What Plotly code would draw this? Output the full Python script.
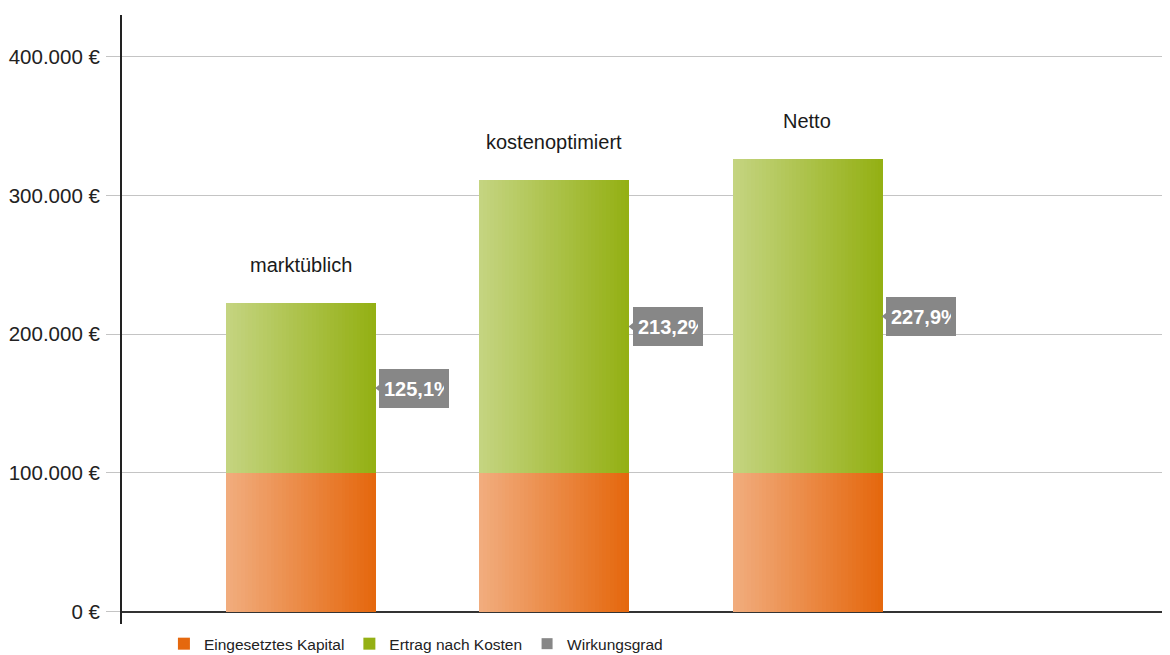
import plotly.graph_objects as go

# ---------------- data ----------------
categories = ["marktüblich", "kostenoptimiert", "Netto"]
capital = [100000, 100000, 100000]              # Eingesetztes Kapital
yield_after_costs = [122700, 210900, 226000]    # Ertrag nach Kosten
efficiency = [125.1, 213.2, 227.9]              # Wirkungsgrad (%)
efficiency_text = ["125,1%", "213,2%", "227,9%"]
tick_vals = [0, 100000, 200000, 300000, 400000]
tick_text = ["0 €", "100.000 €", "200.000 €", "300.000 €", "400.000 €"]

# ---------------- style ----------------
idx = list(range(len(categories)))
BW = 0.59            # bar width in category units
N = 40               # gradient slices
orange_l, orange_r = (241, 172, 125), (229, 104, 14)
green_l, green_r = (196, 212, 128), (148, 176, 20)
GREY = "#878787"
SANS = "Liberation Sans, Arial, sans-serif"


def mix(c1, c2, t):
    return "rgb(%d,%d,%d)" % tuple(round(a + (b - a) * t) for a, b in zip(c1, c2))


totals = [c + y for c, y in zip(capital, yield_after_costs)]

fig = go.Figure()

for name, vals, bases, cl, cr, rank in [
    ("Eingesetztes Kapital", capital, [0] * len(capital), orange_l, orange_r, 1),
    ("Ertrag nach Kosten", yield_after_costs, capital, green_l, green_r, 2),
]:
    for i in range(N):
        t = i / (N - 1)
        fig.add_trace(go.Bar(
            x=idx, y=vals, base=bases,
            width=BW / N * 1.15,
            offset=-BW / 2 + i * BW / N,
            marker=dict(color=mix(cl, cr, t), line=dict(width=0)),
            name=name, legendgroup=name,
            showlegend=(i == N - 1), legendrank=rank,
            hoverinfo="skip",
        ))

# notch of the efficiency callouts
fig.add_trace(go.Scatter(
    x=[i + BW / 2 + 0.019 for i in idx], y=efficiency, yaxis="y2",
    mode="markers", marker=dict(symbol="triangle-left", size=10, color=GREY),
    showlegend=False, hoverinfo="skip",
))
# Wirkungsgrad series (marker hidden under the label box)
fig.add_trace(go.Scatter(
    x=[i + BW / 2 + 0.08 for i in idx], y=efficiency, yaxis="y2",
    mode="markers", marker=dict(symbol="square", size=11, color=GREY),
    name="Wirkungsgrad", legendrank=3, hoverinfo="skip",
))

annotations = []
for i, tot, pct, txt, cat in zip(idx, totals, efficiency, efficiency_text, categories):
    annotations.append(dict(
        x=i, y=tot, xref="x", yref="y", text=cat, showarrow=False,
        yanchor="bottom", yshift=25, font=dict(family=SANS, size=20, color="#1a1a1a"),
    ))
    annotations.append(dict(
        x=i + BW / 2, y=pct, xref="x", yref="y2", text="<b>%s</b>" % txt,
        showarrow=False, xanchor="left", yanchor="middle", xshift=4,
        width=60, height=29, align="left", valign="middle",
        bgcolor=GREY, borderpad=5, borderwidth=0,
        font=dict(family=SANS, size=20, color="white"),
    ))

fig.update_layout(
    width=1162, height=647,
    margin=dict(l=114, r=0, t=7, b=31, autoexpand=False),
    paper_bgcolor="white", plot_bgcolor="white",
    barmode="overlay", bargap=0,
    showlegend=True,
    legend=dict(orientation="h", x=0.04, xanchor="left", y=-0.033, yanchor="middle",
                font=dict(family=SANS, size=15.5, color="#222"), traceorder="normal",
                itemclick=False, bgcolor="rgba(0,0,0,0)"),
    xaxis=dict(range=[-0.705, 3.432], showgrid=False, zeroline=False, showline=False,
               showticklabels=False, ticks="", automargin=False),
    yaxis=dict(range=[-8860, 430050], tickvals=tick_vals, ticktext=tick_text,
               showgrid=True, gridcolor="#c4c4c4", gridwidth=1,
               zeroline=True, zerolinecolor="#333", zerolinewidth=2,
               showline=True, linecolor="#222", linewidth=2,
               ticks="outside", ticklen=14, tickcolor="#c4c4c4", tickwidth=1,
               ticklabelstandoff=2, automargin=False,
               tickfont=dict(family=SANS, size=20.5, color="#222")),
    yaxis2=dict(range=[-213.5, 660.3], overlaying="y", visible=False),
    annotations=annotations,
)

fig.write_html("out.html")
